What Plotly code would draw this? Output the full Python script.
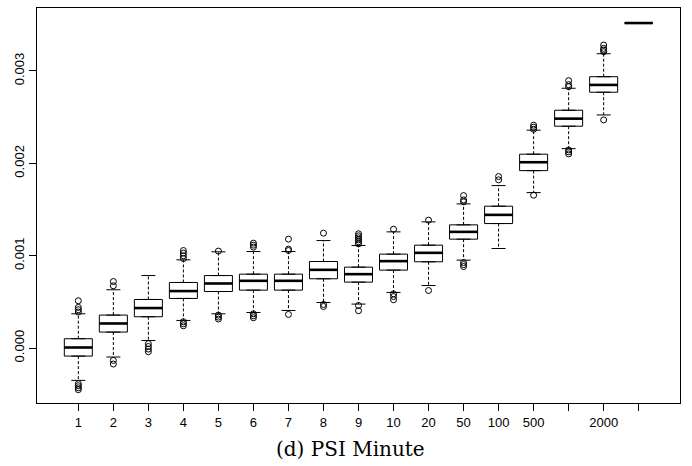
import plotly.graph_objects as go

# ---- data (values in units of the y axis) ----
categories = ["1", "2", "3", "4", "5", "6", "7", "8", "9", "10",
              "20", "50", "100", "500", "1000", "2000", "5000"]
tick_labels = ["1", "2", "3", "4", "5", "6", "7", "8", "9", "10",
               "20", "50", "100", "500", "", "2000", ""]

q1 = [-0.087, 0.173, 0.339, 0.537, 0.612, 0.627, 0.627, 0.750, 0.714, 0.844,
      0.934, 1.179, 1.348, 1.921, 2.402, 2.770, 3.519]
median = [0.006, 0.266, 0.433, 0.617, 0.699, 0.728, 0.728, 0.847, 0.800, 0.941,
          1.031, 1.258, 1.442, 2.012, 2.484, 2.849, 3.519]
q3 = [0.101, 0.357, 0.526, 0.710, 0.785, 0.800, 0.800, 0.937, 0.876, 1.017,
      1.114, 1.334, 1.536, 2.099, 2.575, 2.938, 3.519]
lower_whisker = [-0.350, -0.097, 0.082, 0.299, 0.371, 0.385, 0.407, 0.493, 0.476, 0.602,
                 0.677, 0.952, 1.078, 1.683, 2.159, 2.524, 3.519]
upper_whisker = [0.371, 0.631, 0.785, 0.955, 1.042, 1.045, 1.045, 1.164, 1.110, 1.258,
                 1.366, 1.561, 1.759, 2.359, 2.813, 3.187, 3.519]
outliers = [
    [0.512, 0.440, 0.415, 0.390, -0.386, -0.408, -0.430, -0.451],
    [0.720, 0.674, -0.134, -0.173],
    [0.047, 0.017, -0.011, -0.040],
    [1.056, 1.028, 0.999, 0.969, 0.285, 0.263, 0.241],
    [1.050, 0.357, 0.335, 0.314],
    [1.136, 1.114, 1.093, 0.371, 0.349, 0.328],
    [1.179, 1.071, 1.056, 0.364],
    [1.244, 0.472, 0.450],
    [1.237, 1.215, 1.193, 1.172, 1.150, 1.128, 0.461, 0.404],
    [1.287, 0.587, 0.558, 0.523],
    [1.385, 0.623],
    [1.651, 1.604, 1.583, 0.926, 0.904, 0.883],
    [1.857, 1.821],
    [2.413, 2.391, 2.369, 1.655],
    [2.895, 2.852, 2.830, 2.145, 2.124, 2.102],
    [3.281, 3.245, 3.227, 3.209, 2.470],
    [],
]
scale = 1e-3

# ---- build ----
pos = list(range(1, len(categories) + 1))
s = lambda arr: [v * scale for v in arr]
BOXW = 0.8
CAP = 0.2

fig = go.Figure()

fig.add_trace(go.Box(
    x=pos, q1=s(q1), median=s(median), q3=s(q3),
    lowerfence=s(q1), upperfence=s(q3),
    width=BOXW, fillcolor="white",
    line=dict(color="black", width=1),
    boxpoints=False, hoverinfo="skip", showlegend=False,
))

# dashed whiskers
wx, wy = [], []
for p, a, b, c, d in zip(pos, q1, lower_whisker, q3, upper_whisker):
    wx += [p, p, None, p, p, None]
    wy += [a * scale, b * scale, None, c * scale, d * scale, None]
fig.add_trace(go.Scatter(x=wx, y=wy, mode="lines",
                         line=dict(color="black", width=1, dash="3px,2px"),
                         hoverinfo="skip", showlegend=False))

# whisker caps
cx, cy = [], []
for p, b, d in zip(pos, lower_whisker, upper_whisker):
    cx += [p - CAP, p + CAP, None, p - CAP, p + CAP, None]
    cy += [b * scale, b * scale, None, d * scale, d * scale, None]
fig.add_trace(go.Scatter(x=cx, y=cy, mode="lines",
                         line=dict(color="black", width=1),
                         hoverinfo="skip", showlegend=False))

# thick medians
mx, my = [], []
for p, m in zip(pos, median):
    mx += [p - BOXW / 2, p + BOXW / 2, None]
    my += [m * scale, m * scale, None]
fig.add_trace(go.Scatter(x=mx, y=my, mode="lines",
                         line=dict(color="black", width=2.6),
                         hoverinfo="skip", showlegend=False))

# outliers
ox, oy = [], []
for p, vals in zip(pos, outliers):
    for v in vals:
        ox.append(p)
        oy.append(v * scale)
fig.add_trace(go.Scatter(x=ox, y=oy, mode="markers",
                         marker=dict(symbol="circle-open", size=6,
                                     color="black", line=dict(width=1)),
                         hoverinfo="skip", showlegend=False))

fig.update_layout(
    width=692, height=466,
    margin=dict(l=37, r=12, t=8, b=63),
    paper_bgcolor="white", plot_bgcolor="white",
    font=dict(family="Liberation Sans, Arial, sans-serif", size=13, color="black"),
    showlegend=False,
    xaxis=dict(
        range=[-0.18, 18.18],
        tickmode="array", tickvals=pos, ticktext=tick_labels,
        ticks="outside", ticklen=7, tickcolor="black", tickwidth=1,
        showgrid=False, zeroline=False,
        showline=True, mirror=True, linecolor="black", linewidth=1,
    ),
    yaxis=dict(
        range=[-0.000595, 0.003682],
        tickmode="array", tickvals=[0, 0.001, 0.002, 0.003],
        ticktext=["0.000", "0.001", "0.002", "0.003"],
        tickangle=-90,
        ticks="outside", ticklen=7, tickcolor="black", tickwidth=1,
        showgrid=False, zeroline=False,
        showline=True, mirror=True, linecolor="black", linewidth=1,
    ),
    annotations=[dict(
        text="(d) PSI Minute", xref="paper", yref="paper",
        x=0.487, y=-0.1165, xanchor="center", yanchor="middle",
        showarrow=False,
        font=dict(family="DejaVu Serif, serif", size=20, color="black"),
    )],
)

fig.write_html("out.html", config={"displayModeBar": False},
               post_script="document.body.style.margin='0';")
